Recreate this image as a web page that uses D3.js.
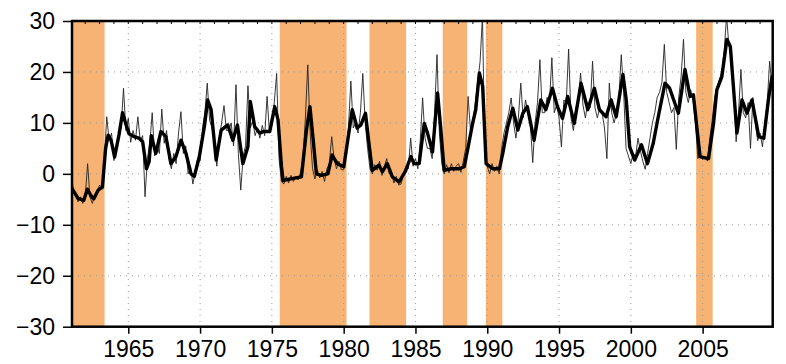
<!DOCTYPE html>
<html>
<head>
<meta charset="utf-8">
<script src="https://cdn.jsdelivr.net/npm/d3@7"></script>
<style>
    body { margin: 0; background: #fff; }
    text { font-family: "Liberation Sans", Arial, sans-serif; }
</style>
</head>
<body>
<div id="chart"></div>
<script>
// tick values
var xTicks = [1965, 1970, 1975, 1980, 1985, 1990, 1995, 2000, 2005];
var yTicks = [-30, -20, -10, 0, 10, 20, 30];

// shaded periods (start / end in decimal years)
var shadeStart = [1961.0, 1975.55, 1981.8, 1986.9, 1989.9, 2004.55];
var shadeEnd = [1963.35, 1980.2, 1984.35, 1988.6, 1991.05, 2005.7];

// smoothed series (thick line)
var smoothYears = [1961.0, 1961.5, 1961.9, 1962.15, 1962.4, 1962.6, 1962.9, 1963.2, 1963.42, 1963.6,
    1963.8, 1964.05, 1964.35, 1964.6, 1964.85, 1965.05, 1965.4, 1965.75, 1966.0, 1966.27,
    1966.45, 1966.6, 1966.92, 1967.27, 1967.62, 1967.97, 1968.32, 1968.67, 1969.02, 1969.37,
    1969.6, 1969.95, 1970.3, 1970.53, 1970.77, 1971.12, 1971.47, 1971.93, 1972.28, 1972.6,
    1972.98, 1973.33, 1973.5, 1973.8, 1974.15, 1974.4, 1974.85, 1975.2, 1975.43, 1975.67,
    1975.78, 1976.48, 1977.06, 1977.41, 1977.65, 1977.88, 1978.1, 1978.46, 1978.9, 1979.2,
    1979.55, 1980.01, 1980.36, 1980.6, 1980.94, 1981.2, 1981.52, 1981.76, 1981.99, 1982.46,
    1982.69, 1983.04, 1983.39, 1983.86, 1984.33, 1984.68, 1984.9, 1985.26, 1985.61, 1985.84,
    1986.19, 1986.54, 1986.75, 1987.0, 1987.47, 1988.05, 1988.4, 1988.63, 1988.98, 1989.2,
    1989.45, 1989.68, 1989.92, 1990.38, 1990.85, 1991.08, 1991.43, 1991.78, 1992.13, 1992.48,
    1992.79, 1993.26, 1993.73, 1994.08, 1994.54, 1994.89, 1995.24, 1995.6, 1996.06, 1996.53,
    1997.0, 1997.46, 1997.81, 1998.28, 1998.63, 1998.98, 1999.45, 1999.68, 1999.92, 2000.27,
    2000.74, 2001.16, 2001.56, 2001.91, 2002.38, 2002.7, 2003.31, 2003.77, 2004.12, 2004.36,
    2004.59, 2004.82, 2005.1, 2005.41, 2005.76, 2005.99, 2006.34, 2006.69, 2006.93, 2007.39,
    2007.74, 2008.09, 2008.44, 2008.91, 2009.26, 2009.61, 2009.84, 2009.96];
var smoothValues = [-2.5, -4.8, -5.2, -3, -4.3, -4.9, -3.2, -2.6, 5, 7.6,
    6.6, 3.3, 7.6, 12, 9.6, 7.9, 7.3, 7, 6.3, 1,
    2.4, 7.5, 4, 8.3, 7.3, 2, 3.4, 6.6, 4, 0,
    -0.5, 3.4, 9.3, 14.5, 12.6, 2.7, 8.6, 9.6, 6.6, 9.6,
    2, 5.3, 14.2, 9.3, 8, 8.3, 8.3, 13.2, 10.6, 1.4,
    -1.3, -0.9, -0.6, 8.6, 13.2, 6.6, 0, -0.3, 0, 3.7,
    2, 1.4, 8, 12.6, 9, 9.6, 11.9, 6, 0.7, 1.7,
    0.4, 2, -0.6, -1.6, 0.7, 3.4, 2, 2, 9.9, 8,
    4.3, 15.9, 9.3, 0.7, 1, 1, 1.4, 4.7, 9.9, 12.6,
    19.8, 17.2, 2, 1, 1, 4, 9.3, 12.9, 8.6, 11.9,
    13.2, 6.6, 14.5, 12.6, 16.8, 13.2, 10.9, 15.2, 9.9, 17.8,
    12.6, 16.8, 12.6, 11.2, 14.5, 11.2, 19.5, 14.5, 5.3, 2.7,
    5.7, 2, 6, 11.2, 17.8, 16.8, 11.9, 20.5, 15.2, 15.5,
    9.3, 3.4, 3.2, 3, 9.9, 16.5, 19.1, 26.4, 25, 8,
    14.5, 11.9, 14.5, 7.3, 7, 15.2, 19.1, 17.2];

// raw series (thin line), one value every two months from Jan 1961
var rawStart = 1961;
var rawPerYear = 6;
var rawValues = [
    0.4, -3, -4, -5.5, -4.5, -5.8,      // 1961
    -4.5, 2, -4.6, -5.8, -4, -3.6,      // 1962
    -2.2, -3, 3, 11.2, 6.5, 8,          // 1963
    2.6, 5, 7.6, 9, 16.8, 8.5,          // 1964
    10.9, 6.2, 8.5, 6.6, 11.2, 6.5,     // 1965
    7.5, -4.5, 3, 6, 12, 3.5,           // 1966
    5.5, 4, 12.7, 6, 8.5, 3,            // 1967
    1, 4, 2, 8, 12.2, 4,                // 1968
    5.5, 0, 1.5, -2, 0.5, 3,            // 1969
    2.5, 9, 12, 17.8, 10.5, 9,          // 1970
    6, 1.5, 7, 10, 13.4, 8.5,           // 1971
    8.5, 10, 5.5, 17.5, 4, -3.2,        // 1972
    3.5, 5.5, 17.3, 9, 10.5, 7.5,       // 1973
    9, 7, 9.5, 7.5, 15.2, 8,            // 1974
    9.5, 14, 19.7, 3, -1.5, -2,         // 1975
    -0.5, -1.8, -0.3, -1.5, -0.5, -1.2, // 1976
    0.3, 3, 11, 21.4, 8, 1,             // 1977
    -1, 0.8, -0.8, 0.5, -1.5, 1,        // 1978
    2, 7.3, 3, 1, 2.5, 0.8,             // 1979
    0.8, 5, 9, 18.2, 9, 10,             // 1980
    8, 12, 19.7, 10, 5, 1,              // 1981
    0, 1.8, 0.7, 2.5, -0.3, 1.5,        // 1982
    3, 0, 0.3, -1.8, -0.5, -2.2,        // 1983
    -2, 0, 1.5, 1, 7, 1.5,              // 1984
    3, 1, 6.5, 14.9, 7, 5,              // 1985
    5, 3, 12, 23.4, 8, 2,               // 1986
    0, 1.8, 0.2, 2, 0.5, 1.5,           // 1987
    2, 0.3, 2.5, 5, 15.2, 8.5,          // 1988
    10, 14, 18, 22, 31, 3,              // 1989
    1.5, 0, 2, 0.5, 1.5, 0,             // 1990
    5, 8, 10, 12, 14.9, 10,             // 1991
    7, 11, 17.8, 11, 14.5, 12,          // 1992
    10, 2.2, 10, 14, 22.4, 12,          // 1993
    12, 15, 14, 22.8, 12, 13.5,         // 1994
    11, 5.3, 14.5, 14, 24.5, 11,        // 1995
    8.5, 13, 14, 19.8, 13.5, 11,        // 1996
    14, 13, 22.1, 13, 11, 13,           // 1997
    12, 9, 3, 17.8, 12, 10,             // 1998
    12, 15, 23.4, 16, 5, 3.5,           // 1999
    2, 4, 3.5, 7, 4.5, 2.5,             // 2000
    0.9, 4, 7, 10, 12, 15,              // 2001
    16, 18, 25.4, 16, 14, 12,           // 2002
    13, 4.8, 15, 19, 26.4, 16,          // 2003
    14, 16.5, 14.5, 10, 3, 3.8,         // 2004
    2.8, 3.5, 2.5, 7, 10.5, 15,         // 2005
    17, 18.5, 20, 24, 31, 25,           // 2006
    24, 17, 6.3, 12, 20.5, 12,          // 2007
    11, 14, 5, 15, 10, 6.5,             // 2008
    8, 5.3, 10, 14, 22.1, 17            // 2009
];

var width = 786, height = 364;
var margin = { top: 21, right: 13.3, bottom: 37.3, left: 72 };
var innerW = width - margin.left - margin.right;
var innerH = height - margin.top - margin.bottom;

/**
 * Appends the svg and the plot group.
 */
function appendSVG(id) {
    var svg = d3.select("#" + id)
        .append("svg")
        .attr("width", width)
        .attr("height", height);

    svg.append("rect")
        .attr("width", width)
        .attr("height", height)
        .attr("fill", "#fff");

    svg.append("defs").append("clipPath")
        .attr("id", "plotClip")
        .append("rect")
        .attr("width", innerW)
        .attr("height", innerH);

    return svg.append("g")
        .attr("transform", "translate(" + margin.left + "," + margin.top + ")");
}

function drawChart() {
    var g = appendSVG("chart");

    var x = d3.scaleLinear().domain([1961.08, 2009.88]).range([0, innerW]);
    var y = d3.scaleLinear().domain([-30, 30]).range([innerH, 0]);

    // shaded periods
    g.append("g")
        .selectAll("rect")
        .data(d3.range(shadeStart.length))
        .join("rect")
        .attr("clip-path", "url(#plotClip)")
        .attr("x", function (i) { return x(shadeStart[i]); })
        .attr("width", function (i) { return x(shadeEnd[i]) - x(shadeStart[i]); })
        .attr("y", 0)
        .attr("height", innerH)
        .attr("fill", "#f6b374");

    // dotted grid
    g.append("g")
        .selectAll("line")
        .data(xTicks)
        .join("line")
        .attr("x1", function (d) { return x(d); })
        .attr("x2", function (d) { return x(d); })
        .attr("y1", 0)
        .attr("y2", innerH)
        .attr("stroke", "#999")
        .attr("stroke-dasharray", "1,5");

    g.append("g")
        .selectAll("line")
        .data(yTicks.filter(function (d) { return d > -30 && d < 30; }))
        .join("line")
        .attr("x1", 0)
        .attr("x2", innerW)
        .attr("y1", function (d) { return y(d); })
        .attr("y2", function (d) { return y(d); })
        .attr("stroke", "#999")
        .attr("stroke-dasharray", "1,5");

    var lines = g.append("g").attr("clip-path", "url(#plotClip)");

    // thin raw line
    var rawLine = d3.line()
        .x(function (d, i) { return x(rawStart + i / rawPerYear); })
        .y(function (d) { return y(d); });

    lines.append("path")
        .datum(rawValues)
        .attr("d", rawLine)
        .attr("fill", "none")
        .attr("stroke", "#222")
        .attr("stroke-width", 0.9);

    // thick smoothed line
    var smoothLine = d3.line()
        .x(function (d) { return x(smoothYears[d]); })
        .y(function (d) { return y(smoothValues[d]); });

    lines.append("path")
        .datum(d3.range(smoothYears.length))
        .attr("d", smoothLine)
        .attr("fill", "none")
        .attr("stroke", "#000")
        .attr("stroke-width", 3.4)
        .attr("stroke-linejoin", "round");

    // axes
    var yAxis = g.append("g")
        .call(d3.axisLeft(y).tickValues(yTicks).tickSize(9).tickPadding(8));
    var xAxis = g.append("g")
        .attr("transform", "translate(0," + innerH + ")")
        .call(d3.axisBottom(x).tickValues(xTicks).tickFormat(d3.format("d")).tickSize(7).tickPadding(7));

    [yAxis, xAxis].forEach(function (a) {
        a.select(".domain").remove();
        a.selectAll(".tick line").attr("stroke", "#000").attr("stroke-width", 1.5);
        a.selectAll("text")
            .attr("fill", "#000")
            .style("font-size", "23px");
    });

    // small year ticks along the top edge
    g.append("g")
        .selectAll("line")
        .data(d3.range(1962, 2010))
        .join("line")
        .attr("x1", function (d) { return x(d); })
        .attr("x2", function (d) { return x(d); })
        .attr("y1", 0)
        .attr("y2", 3)
        .attr("stroke", "#000");

    // frame
    g.append("rect")
        .attr("width", innerW)
        .attr("height", innerH)
        .attr("fill", "none")
        .attr("stroke", "#000")
        .attr("stroke-width", 2.5);
}

drawChart();
</script>
</body>
</html>
